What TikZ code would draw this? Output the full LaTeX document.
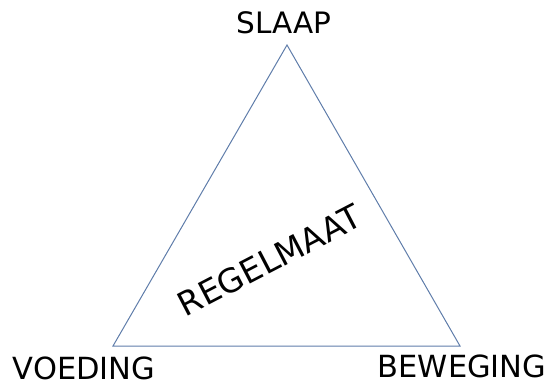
\documentclass[tikz,border=0pt]{standalone}
\usepackage{fontspec}
\setmainfont{DejaVu Sans}
\definecolor{edge}{RGB}{95,125,170}
\tikzset{
  lbl/.style={font=\fontsize{30.5}{30.5}\selectfont, inner sep=0pt, anchor=base, text=black},
  tri/.style={draw=edge, line width=1pt}
}
\begin{document}
\begin{tikzpicture}[x=1pt,y=-1pt]
\useasboundingbox (0,0) rectangle (552,381);
\coordinate (top) at (287,45);
\coordinate (bl) at (113,346);
\coordinate (br) at (460,346);
\draw[tri] (top) -- (bl) -- (br) -- cycle;
\node[lbl, font=\fontsize{29.5}{29.5}\selectfont] (slaap) at (284,33) {SLAAP};
\node[lbl] (voeding) at (84,379.5) {VOEDING};
\node[lbl] (beweging) at (462,377) {BEWEGING};
\node[lbl, font=\fontsize{33}{33}\selectfont, rotate=27.5] (regel) at (275,271) {REGELMAAT};
\end{tikzpicture}
\end{document}
